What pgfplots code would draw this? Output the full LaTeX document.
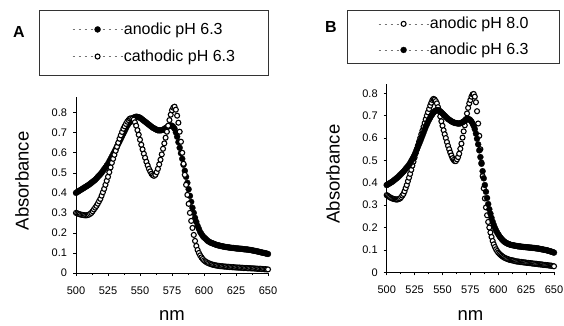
\documentclass[border=0pt]{standalone}
\usepackage{fontspec}
\setmainfont{Liberation Sans}
\usepackage{pgfplots}
\usepackage{pgfplotstable}
\pgfplotsset{compat=1.18}

\pgfplotstableread{
nm fa ca
500 .400 .300
501 .404 .298
502 .408 .295
503 .412 .293
504 .416 .291
505 .420 .290
506 .424 .289
507 .428 .288
508 .432 .288
509 .436 .289
510 .440 .291
511 .445 .295
512 .450 .300
513 .455 .308
514 .460 .317
515 .465 .326
516 .472 .335
517 .479 .346
518 .486 .358
519 .493 .370
520 .500 .386
521 .509 .403
522 .518 .420
523 .527 .440
524 .536 .460
525 .545 .480
526 .557 .503
527 .569 .527
528 .581 .550
529 .593 .570
530 .605 .590
531 .618 .610
532 .631 .630
533 .644 .650
534 .657 .670
535 .670 .687
536 .683 .704
537 .696 .720
538 .709 .732
539 .722 .744
540 .735 .755
541 .744 .763
542 .752 .770
543 .760 .772
544 .768 .770
545 .775 .765
546 .778 .752
547 .780 .735
548 .779 .713
549 .777 .690
550 .775 .665
551 .770 .640
552 .765 .617
553 .760 .595
554 .755 .575
555 .750 .555
556 .745 .537
557 .740 .520
558 .735 .507
559 .730 .495
560 .725 .488
561 .722 .485
562 .718 .490
563 .715 .503
564 .712 .520
565 .712 .542
566 .712 .565
567 .713 .592
568 .715 .620
569 .719 .647
570 .723 .675
571 .727 .705
572 .731 .735
573 .735 .763
574 .736 .790
575 .735 .812
576 .729 .825
577 .720 .830
578 .702 .815
579 .680 .785
580 .653 .750
581 .625 .705
582 .598 .655
583 .570 .600
584 .540 .545
585 .510 .490
586 .480 .440
587 .450 .390
588 .418 .345
589 .385 .300
590 .355 .260
591 .325 .225
592 .300 .190
593 .275 .160
594 .255 .135
595 .235 .115
596 .220 .100
597 .205 .088
598 .195 .078
599 .185 .070
600 .178 .063
601 .172 .058
602 .166 .054
603 .160 .050
604 .156 .048
605 .152 .045
606 .150 .043
607 .147 .041
608 .145 .040
609 .142 .038
610 .140 .037
611 .138 .036
612 .137 .035
613 .135 .034
614 .134 .034
615 .132 .033
616 .131 .032
617 .130 .032
618 .129 .031
619 .128 .031
620 .127 .030
621 .126 .030
622 .125 .029
623 .125 .029
624 .124 .028
625 .123 .028
626 .122 .027
627 .122 .027
628 .121 .027
629 .121 .026
630 .120 .026
631 .119 .025
632 .118 .025
633 .118 .025
634 .117 .024
635 .116 .024
636 .115 .024
637 .114 .023
638 .113 .023
639 .111 .023
640 .110 .022
641 .109 .022
642 .107 .021
643 .106 .021
644 .104 .021
645 .103 .020
646 .101 .020
647 .100 .019
648 .098 .019
649 .097 .018
650 .095 .018
}\tblA

\pgfplotstableread{
nm ob fb
500 .345 .390
501 .342 .393
502 .338 .396
503 .335 .399
504 .332 .402
505 .330 .405
506 .328 .409
507 .327 .413
508 .326 .417
509 .325 .421
510 .326 .425
511 .328 .430
512 .330 .435
513 .336 .440
514 .343 .445
515 .350 .450
516 .362 .456
517 .376 .462
518 .390 .468
519 .407 .474
520 .423 .480
521 .440 .488
522 .458 .497
523 .477 .506
524 .495 .515
525 .513 .525
526 .532 .537
527 .550 .549
528 .567 .561
529 .584 .573
530 .600 .585
531 .617 .598
532 .633 .611
533 .650 .624
534 .667 .637
535 .684 .650
536 .700 .661
537 .715 .672
538 .730 .682
539 .745 .691
540 .758 .700
541 .770 .707
542 .775 .714
543 .772 .720
544 .765 .723
545 .755 .725
546 .738 .725
547 .720 .723
548 .697 .719
549 .675 .715
550 .655 .710
551 .635 .705
552 .617 .700
553 .600 .695
554 .582 .690
555 .565 .685
556 .550 .682
557 .535 .678
558 .522 .675
559 .510 .672
560 .502 .670
561 .497 .668
562 .497 .667
563 .505 .666
564 .515 .665
565 .530 .665
566 .552 .666
567 .575 .668
568 .602 .671
569 .630 .674
570 .657 .678
571 .685 .681
572 .710 .684
573 .735 .685
574 .755 .684
575 .770 .680
576 .785 .674
577 .795 .665
578 .797 .654
579 .785 .640
580 .760 .620
581 .720 .597
582 .665 .572
583 .610 .545
584 .550 .515
585 .490 .485
586 .430 .452
587 .375 .420
588 .330 .390
589 .290 .360
590 .255 .332
591 .225 .305
592 .200 .282
593 .178 .262
594 .158 .243
595 .140 .226
596 .125 .212
597 .113 .199
598 .103 .188
599 .095 .178
600 .088 .170
601 .083 .162
602 .078 .155
603 .074 .149
604 .070 .144
605 .067 .139
606 .064 .135
607 .062 .132
608 .060 .129
609 .058 .127
610 .056 .125
611 .055 .123
612 .054 .122
613 .053 .121
614 .052 .120
615 .050 .119
616 .049 .118
617 .048 .117
618 .048 .116
619 .047 .116
620 .046 .115
621 .046 .114
622 .045 .114
623 .044 .113
624 .044 .113
625 .043 .112
626 .042 .112
627 .042 .111
628 .041 .111
629 .041 .110
630 .040 .110
631 .039 .109
632 .039 .109
633 .038 .108
634 .038 .107
635 .037 .107
636 .036 .106
637 .036 .105
638 .035 .104
639 .035 .103
640 .034 .102
641 .033 .101
642 .033 .100
643 .032 .099
644 .032 .098
645 .031 .096
646 .030 .095
647 .030 .093
648 .029 .092
649 .028 .090
650 .027 .088
}\tblB

\pgfplotsset{
  spec/.style={
    scale only axis,
    axis x line=bottom, axis y line=left,
    axis line style={-, black, line width=0.7pt},
    xmin=500, xmax=650, ymin=0,
    xtick={500,525,550,575,600,625,650},
    minor x tick num=1,
    ytick={0,0.1,0.2,0.3,0.4,0.5,0.6,0.7,0.8},
    tick align=outside, major tick length=3pt, minor tick length=2pt,
    tick style={black, line width=0.6pt},
    ticklabel style={font=\fontsize{11}{13}\selectfont},
    xticklabel style={yshift=-7pt},
    yticklabel style={xshift=-2.5pt, /pgf/number format/fixed, /pgf/number format/precision=1},
    /pgf/number format/assume math mode=true,
    label style={font=\fontsize{18.5}{21}\selectfont},
    xlabel={nm}, ylabel={Absorbance},
    clip=false,
    legend cell align=left,
    legend image code/.code={
      \draw[black!55, line width=0.6pt, dash pattern=on 2.5pt off 3.5pt] (0pt,0pt) -- (50pt,0pt);
      \draw[mark repeat=2, mark phase=2, #1] plot coordinates {(0pt,0pt) (25pt,0pt) (50pt,0pt)};
    },
  },
  filledser/.style={only marks, mark=*, mark size=3pt, mark options={fill=black, draw=black, line width=0.3pt}},
  openser/.style={only marks, mark=*, mark size=2.5pt, mark options={fill=white, draw=black, line width=1.1pt}},
}

\begin{document}
\begin{tikzpicture}
\path[use as bounding box] (0,0) rectangle (564pt,325pt);

\node[font=\bfseries\fontsize{16}{18}\selectfont] at (19pt,293pt) {A};
\node[font=\bfseries\fontsize{16}{18}\selectfont] at (331pt,298pt) {B};

\begin{axis}[spec,
  at={(76pt,52pt)}, anchor=south west,
  width=192pt, height=176.35pt, ymax=0.88,
  xlabel style={at={(axis description cs:0.5,-0.24)}, anchor=center},
  ylabel style={at={(axis description cs:-0.281,0.522)}, anchor=center},
  legend style={at={(axis description cs:-0.1927,1.491)}, anchor=north west,
    draw=black!80, line width=0.6pt, font=\fontsize{16}{19}\selectfont,
    inner xsep=33pt, inner ysep=12.5pt, row sep=14pt, column sep=1pt,
    nodes={inner sep=0pt}},
]
\addplot[filledser] table[x=nm, y=fa] {\tblA};
\addlegendentry{anodic pH 6.3}
\addplot[openser] table[x=nm, y=ca] {\tblA};
\addlegendentry{cathodic pH 6.3}
\end{axis}

\begin{axis}[spec,
  at={(386.7pt,52.7pt)}, anchor=south west,
  width=167.3pt, height=187.95pt, ymax=0.84,
  xlabel style={at={(axis description cs:0.5,-0.229)}, anchor=center},
  ylabel style={at={(axis description cs:-0.321,0.523)}, anchor=center},
  legend style={at={(axis description cs:-0.2373,1.3956)}, anchor=north west,
    draw=black!80, line width=0.6pt, font=\fontsize{16}{19}\selectfont,
    inner xsep=31pt, inner ysep=7pt, row sep=13pt, column sep=1pt,
    nodes={inner sep=0pt}},
]
\addplot[openser] table[x=nm, y=ob] {\tblB};
\addlegendentry{anodic pH 8.0}
\addplot[filledser] table[x=nm, y=fb] {\tblB};
\addlegendentry{anodic pH 6.3}
\end{axis}
\end{tikzpicture}
\end{document}
